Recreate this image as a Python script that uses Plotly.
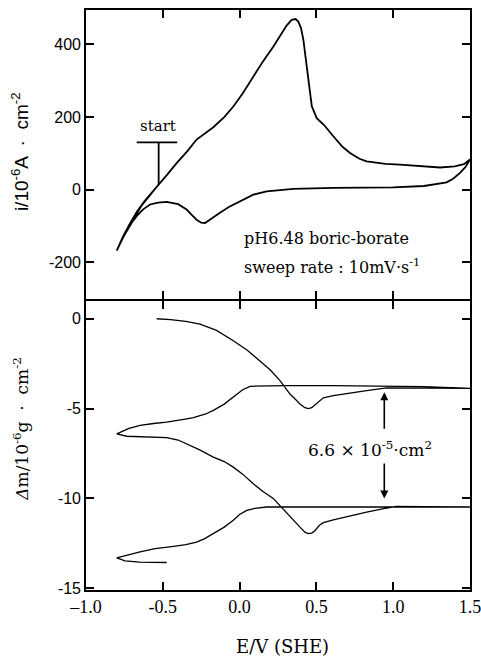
import plotly.graph_objects as go

# ---------------- data ----------------
# Top panel: current density i / 10^-6 A cm^-2 vs E / V (SHE)
cv_E = [-0.527, -0.58, -0.64, -0.70, -0.75, -0.80,
        -0.76, -0.72, -0.67, -0.62, -0.57, -0.527, -0.47, -0.41, -0.34, -0.28, -0.22, -0.171,
        -0.10, -0.041, 0.02, 0.089, 0.15, 0.219, 0.27, 0.306, 0.339, 0.365, 0.382, 0.40,
        0.415, 0.43, 0.447, 0.47, 0.502, 0.55, 0.61, 0.67, 0.719, 0.78, 0.827, 0.95, 1.044,
        1.15, 1.305, 1.40, 1.46, 1.5,
        1.47, 1.435, 1.39, 1.348, 1.2, 1.0, 0.61, 0.35, 0.176, 0.089, 0.003, -0.07, -0.128,
        -0.18, -0.225, -0.25, -0.28, -0.31, -0.345, -0.40, -0.475, -0.53, -0.583, -0.63,
        -0.67, -0.70, -0.73, -0.75]
cv_i = [14, -15, -45, -88, -125, -168,
        -130, -98, -62, -32, -8, 14, 42, 73, 106, 138, 158, 172,
        200, 229, 265, 312, 352, 394, 428, 452, 468, 470, 463, 445,
        413, 360, 294, 230, 197, 178, 147, 118, 101, 85, 78, 71, 69,
        66, 61, 64, 70, 83,
        62, 46, 30, 20, 10, 6, 5, 2, -5, -14, -32, -48, -64,
        -80, -92, -91, -83, -70, -55, -40, -34, -36, -41, -55,
        -73, -90, -112, -125]

# "start" marker (bar + stem)
start_E = [-0.67, -0.406, None, -0.527, -0.527]
start_i = [130, 130, None, 130, 14]

# Bottom panel: mass change Δm / 10^-6 g cm^-2 vs E / V (SHE)
dm_E = [-0.54, -0.45, -0.35, -0.258, -0.15, -0.041, 0.05, 0.133, 0.20, 0.263, 0.30, 0.328,
        0.36, 0.393, 0.425, 0.447, 0.47, 0.49, 0.52, 0.545, 0.61, 0.70, 0.827, 0.957, 1.2, 1.5,
        1.2, 0.9, 0.6, 0.3, 0.15, 0.068, 0.02, -0.041, -0.10, -0.171, -0.22, -0.258, -0.30,
        -0.344, -0.475, -0.56, -0.648, -0.72, -0.80,
        -0.735, -0.60, -0.475, -0.40, -0.344, -0.26, -0.171, -0.10, -0.041, 0.02, 0.089, 0.15,
        0.219, 0.26, 0.306, 0.35, 0.393, 0.425, 0.447, 0.47, 0.49, 0.52, 0.545, 0.61, 0.70,
        0.827, 0.93, 1.02, 1.2, 1.5,
        1.0, 0.6, 0.3, 0.176, 0.10, 0.046, 0.0, -0.041, -0.10, -0.171, -0.23, -0.28, -0.35,
        -0.43, -0.55, -0.648, -0.72, -0.80, -0.746, -0.65, -0.475]
dm_m = [0.0, -0.05, -0.15, -0.3, -0.65, -1.22, -1.75, -2.33, -2.85, -3.44, -3.85, -4.19,
        -4.45, -4.74, -4.95, -5.0, -4.95, -4.8, -4.55, -4.4, -4.28, -4.15, -4.0, -3.85, -3.85, -3.88,
        -3.78, -3.74, -3.72, -3.72, -3.72, -3.76, -3.95, -4.37, -4.75, -5.1, -5.3, -5.39, -5.5,
        -5.57, -5.76, -5.83, -5.94, -6.1, -6.41,
        -6.54, -6.58, -6.62, -6.75, -6.96, -7.3, -7.7, -7.95, -8.26, -8.65, -9.19, -9.6,
        -10.0, -10.38, -10.85, -11.25, -11.6, -11.88, -11.96, -11.93, -11.8, -11.5, -11.35, -11.19, -11.0,
        -10.76, -10.58, -10.44, -10.46, -10.48,
        -10.48, -10.48, -10.48, -10.48, -10.55, -10.67, -10.9, -11.22, -11.6, -11.96, -12.25, -12.43, -12.58,
        -12.67, -12.8, -12.98, -13.12, -13.31, -13.48, -13.55, -13.57]

# annotated mass step (arrow positions)
step_E = 0.942
step_top = -4.09
step_bottom = -10.0
step_gap = [-6.2, -7.98]

# ticks
x_ticks = [-1.0, -0.5, 0.0, 0.5, 1.0, 1.5]
x_tick_text = ["–1.0", "-0.5", "0.0", "0.5", "1.0", "1.5"]
i_ticks = [-200, 0, 200, 400]
i_tick_text = ["-200", "0", "200", "400"]
m_ticks = [0, -5, -10, -15]
m_tick_text = ["0", "-5", "-10", "-15"]

# ---------------- figure ----------------
SERIF = "DejaVu Serif"
TSERIF = "Liberation Serif"
SANS = "Liberation Sans"
LW = 1.6
PLOT_H = 580.0
half = (LW / 2) / PLOT_H  # make the shared divider lines coincide

fig = go.Figure()

fig.add_trace(go.Scatter(x=cv_E, y=cv_i, mode="lines", xaxis="x2", yaxis="y2",
                         line=dict(color="black", width=1.8), showlegend=False))
fig.add_trace(go.Scatter(x=start_E, y=start_i, mode="lines", xaxis="x2", yaxis="y2",
                         line=dict(color="black", width=1.8), showlegend=False))
fig.add_trace(go.Scatter(x=dm_E, y=dm_m, mode="lines", xaxis="x", yaxis="y",
                         line=dict(color="black", width=1.3), showlegend=False))

ax_common = dict(showline=True, linewidth=LW, linecolor="black", mirror="ticks",
                 ticks="inside", ticklen=8, tickwidth=1.5, tickcolor="black",
                 showgrid=False, zeroline=False, automargin=False)

fig.update_layout(
    width=481, height=657,
    margin=dict(l=86, r=11, t=10, b=67, autoexpand=False),
    plot_bgcolor="rgba(0,0,0,0)", paper_bgcolor="white",
    xaxis=dict(domain=[0, 1], range=[-1.0, 1.5], anchor="y",
               tickvals=x_ticks, ticktext=x_tick_text, ticklabeloverflow="allow",
               tickfont=dict(family=TSERIF, size=18, color="black"), **ax_common),
    yaxis=dict(domain=[0, 0.5 - half], range=[-15.1, 1.0], anchor="x",
               tickvals=m_ticks, ticktext=m_tick_text,
               tickfont=dict(family=SANS, size=16, color="black"), **ax_common),
    xaxis2=dict(domain=[0, 1], range=[-1.0, 1.5], anchor="y2", matches="x",
                tickvals=x_ticks, showticklabels=False, **ax_common),
    yaxis2=dict(domain=[0.5 + half, 1], range=[-302, 495], anchor="x2",
                tickvals=i_ticks, ticktext=i_tick_text,
                tickfont=dict(family=SANS, size=16, color="black"), **ax_common),
)

C = dict(xanchor="center", yanchor="middle", showarrow=False)
annos = [
    dict(text="start", x=-0.533, y=174, xref="x2", yref="y2",
         font=dict(family=SERIF, size=15, color="black"), **C),
    dict(text="pH6.48 boric-borate", x=0.567, y=-135, xref="x2", yref="y2",
         font=dict(family=SERIF, size=16, color="black"), **C),
    dict(text="sweep rate : 10mV·s<sup>-1</sup>", x=0.60, y=-211, xref="x2", yref="y2",
         font=dict(family=SERIF, size=16, color="black"), **C),
    dict(text="6.6 × 10<sup>-5</sup>·cm<sup>2</sup>", x=0.849, y=-7.24, xref="x", yref="y",
         font=dict(family=SERIF, size=17, color="black"), **C),
    # arrows
    dict(text="", x=step_E, y=step_top, ax=step_E, ay=step_gap[0], xref="x", yref="y",
         axref="x", ayref="y", showarrow=True, arrowhead=2, arrowsize=1, arrowwidth=1.6,
         arrowcolor="black"),
    dict(text="", x=step_E, y=step_bottom, ax=step_E, ay=step_gap[1], xref="x", yref="y",
         axref="x", ayref="y", showarrow=True, arrowhead=2, arrowsize=1, arrowwidth=1.6,
         arrowcolor="black"),
    # axis titles
    dict(text="i/10<sup>-6</sup>A  ·  cm<sup>-2</sup>", x=(20 - 86) / 384, y=0.755,
         xref="paper", yref="paper", textangle=-90,
         font=dict(family=SANS, size=19, color="black"), **C),
    dict(text="<i>Δ</i>m/10<sup>-6</sup>g  ·  cm<sup>-2</sup>", x=(21 - 86) / 384, y=0.278,
         xref="paper", yref="paper", textangle=-90,
         font=dict(family=SERIF, size=17, color="black"), **C),
    dict(text="E/V (SHE)", x=0.513, y=-0.098, xref="paper", yref="paper",
         font=dict(family=SERIF, size=18, color="black"), **C),
]
fig.update_layout(annotations=annos)

fig.write_html("out.html")
